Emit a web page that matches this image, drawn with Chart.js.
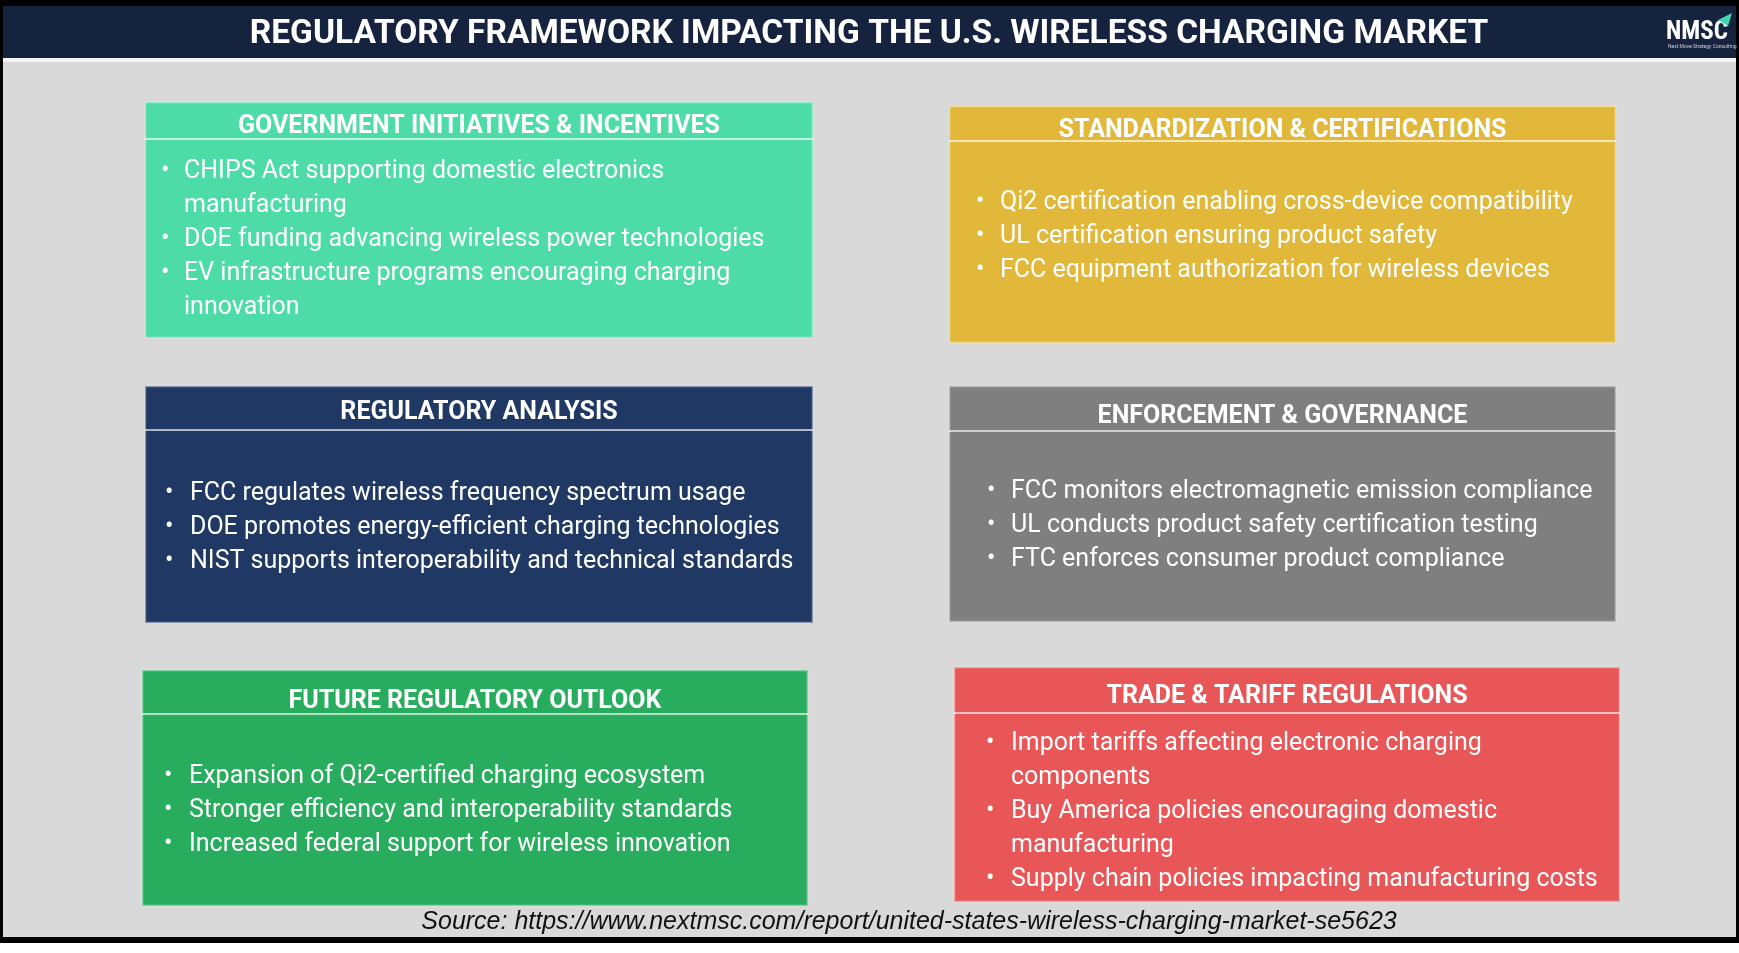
<!DOCTYPE html>
<html>
<head>
<meta charset="utf-8">
<script src="https://cdn.jsdelivr.net/npm/chart.js@4.4.1/dist/chart.umd.min.js"></script>
<style>
  html, body { margin: 0; padding: 0; background: #ffffff; }
  #board { display: block; }
</style>
</head>
<body>
<canvas id="board" width="1739" height="953"></canvas>
<script>
// タイトルと出典
const chartTitle = "REGULATORY FRAMEWORK IMPACTING THE U.S. WIRELESS CHARGING MARKET";
const sourceNote = "Source: https://www.nextmsc.com/report/united-states-wireless-charging-market-se5623";
const logoText = "NMSC";
const logoTagline = "Next Move Strategy Consulting";

// パネルの見出し
const panelTitles = [
  "GOVERNMENT INITIATIVES & INCENTIVES",
  "STANDARDIZATION & CERTIFICATIONS",
  "REGULATORY ANALYSIS",
  "ENFORCEMENT & GOVERNANCE",
  "FUTURE REGULATORY OUTLOOK",
  "TRADE & TARIFF REGULATIONS",
];

// 箇条書き（\n は画像と同じ折り返し位置）
const panelBullets = [
  [
    "CHIPS Act supporting domestic electronics\nmanufacturing",
    "DOE funding advancing wireless power technologies",
    "EV infrastructure programs encouraging charging\ninnovation",
  ],
  [
    "Qi2 certification enabling cross-device compatibility",
    "UL certification ensuring product safety",
    "FCC equipment authorization for wireless devices",
  ],
  [
    "FCC regulates wireless frequency spectrum usage",
    "DOE promotes energy-efficient charging technologies",
    "NIST supports interoperability and technical standards",
  ],
  [
    "FCC monitors electromagnetic emission compliance",
    "UL conducts product safety certification testing",
    "FTC enforces consumer product compliance",
  ],
  [
    "Expansion of Qi2-certified charging ecosystem",
    "Stronger efficiency and interoperability standards",
    "Increased federal support for wireless innovation",
  ],
  [
    "Import tariffs affecting electronic charging\ncomponents",
    "Buy America policies encouraging domestic\nmanufacturing",
    "Supply chain policies impacting manufacturing costs",
  ],
];

// パネルの色
const panelColors = ["#4ddba7", "#e2b83b", "#1f3864", "#7f7f7f", "#28ad5e", "#e85657"];

// レイアウト（ページ座標 px）
const W = 1739;
const H = 953;
const panelBoxes = [
  // x, y, w, h, header高さ, 見出しy, 最初の行y, 点x, 文字x
  { x: 145, y: 102, w: 668, h: 236, hh: 37, ty: 127, by: 172, dx: 16, tx: 39 },
  { x: 949, y: 106, w: 667, h: 237, hh: 35, ty: 131, by: 203, dx: 27, tx: 51 },
  { x: 145, y: 386, w: 668, h: 237, hh: 44, ty: 413, by: 494, dx: 20, tx: 45 },
  { x: 949, y: 386, w: 667, h: 236, hh: 45, ty: 417, by: 492, dx: 38, tx: 62 },
  { x: 142, y: 670, w: 666, h: 236, hh: 44, ty: 702, by: 777, dx: 22, tx: 47 },
  { x: 954, y: 667, w: 666, h: 235, hh: 46, ty: 697, by: 744, dx: 32, tx: 57 },
];
const lineGap = 34;

const infographicPlugin = {
  id: "infographic",
  afterDraw(chart) {
    const ctx = chart.ctx;
    const sx = chart.scales.x;
    const sy = chart.scales.y;
    const px = (v) => sx.getPixelForValue(v);
    const py = (v) => sy.getPixelForValue(v);
    const rect = (x, y, w, h, color) => {
      ctx.fillStyle = color;
      ctx.fillRect(px(x), py(y), px(x + w) - px(x), py(y + h) - py(y));
    };

    ctx.save();

    // 外枠・背景
    rect(0, 0, W, 943, "#000000");
    rect(3, 6, W - 6, 52, "#16233f");
    rect(3, 58, W - 6, 4, "#f4f4f4");
    rect(3, 62, W - 6, 875, "#d9d9d9");

    // タイトル
    ctx.fillStyle = "#ffffff";
    ctx.font = "bold 33.5px Roboto";
    ctx.textAlign = "center";
    ctx.textBaseline = "middle";
    ctx.fillText(chartTitle, px(869), py(35));

    // ロゴ
    ctx.font = "bold 25px 'Roboto Condensed', Roboto";
    ctx.textAlign = "left";
    ctx.fillText(logoText, px(1666), py(33));
    ctx.font = "5px Roboto";
    ctx.fillStyle = "#c8cbd4";
    ctx.fillText(logoTagline, px(1668), py(47));
    ctx.fillStyle = "#3fd9b0";
    ctx.beginPath();
    ctx.moveTo(px(1718), py(20));
    ctx.lineTo(px(1732), py(13));
    ctx.lineTo(px(1728), py(26));
    ctx.closePath();
    ctx.fill();

    // パネル
    panelTitles.forEach((title, i) => {
      const b = panelBoxes[i];
      rect(b.x, b.y, b.w, b.h, panelColors[i]);
      ctx.strokeStyle = "rgba(255,255,255,0.45)";
      ctx.lineWidth = 1.5;
      ctx.strokeRect(px(b.x) + 0.5, py(b.y) + 0.5, px(b.x + b.w) - px(b.x) - 1, py(b.y + b.h) - py(b.y) - 1);

      // 見出しの区切り線
      ctx.strokeStyle = "rgba(255,255,255,0.85)";
      ctx.lineWidth = 1.5;
      ctx.beginPath();
      ctx.moveTo(px(b.x), py(b.y + b.hh));
      ctx.lineTo(px(b.x + b.w), py(b.y + b.hh));
      ctx.stroke();

      ctx.fillStyle = "#ffffff";
      ctx.font = "bold 25px Roboto";
      ctx.textAlign = "center";
      ctx.fillText(title, px(b.x + b.w / 2), py(b.ty));

      ctx.font = "25px Roboto";
      ctx.textAlign = "left";
      let row = 0;
      panelBullets[i].forEach((item) => {
        const lines = item.split("\n");
        ctx.fillText("•", px(b.x + b.dx), py(b.by + row * lineGap));
        lines.forEach((line) => {
          ctx.fillText(line, px(b.x + b.tx), py(b.by + row * lineGap));
          row++;
        });
      });
    });

    // 出典
    ctx.fillStyle = "#111111";
    ctx.font = "italic 25px 'Liberation Sans', Arial";
    ctx.textAlign = "center";
    ctx.fillText(sourceNote, px(909), py(922));

    ctx.restore();
  },
};

new Chart(document.getElementById("board"), {
  type: "scatter",
  data: { datasets: [] },
  options: {
    responsive: false,
    animation: false,
    devicePixelRatio: 1,
    layout: { padding: 0 },
    scales: {
      x: { type: "linear", min: 0, max: W, display: false },
      y: { type: "linear", min: 0, max: H, reverse: true, display: false },
    },
    plugins: {
      legend: { display: false },
      tooltip: { enabled: false },
    },
  },
  plugins: [infographicPlugin],
});
</script>
</body>
</html>
